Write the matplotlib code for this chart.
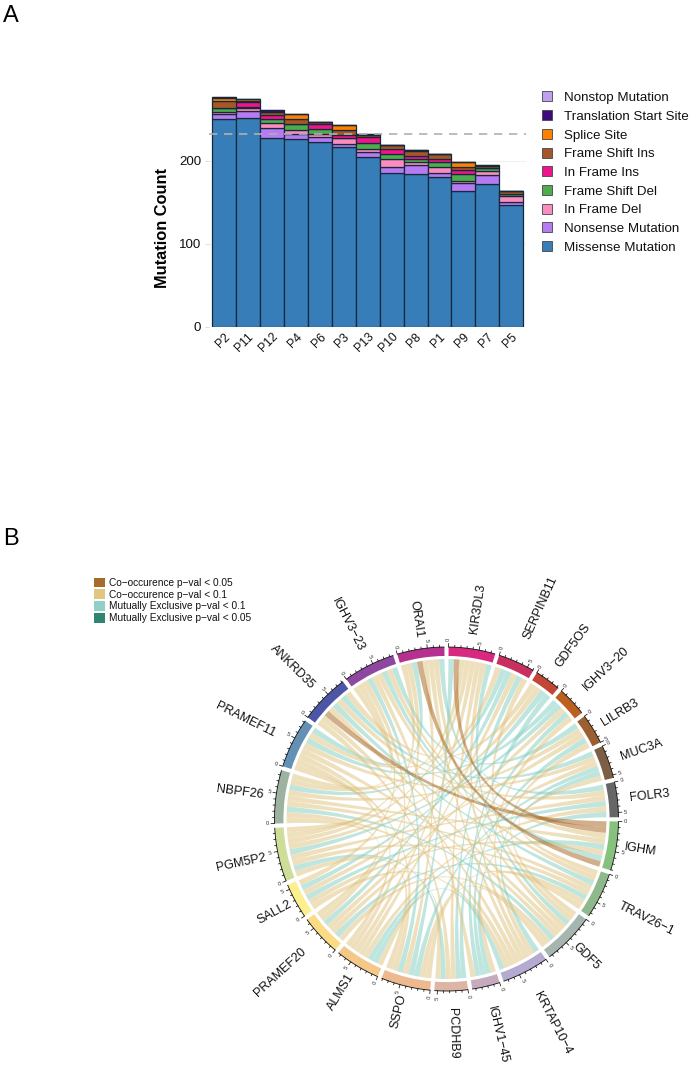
import numpy as np
import matplotlib

matplotlib.use("Agg")
import matplotlib.pyplot as plt
from matplotlib.lines import Line2D
from matplotlib.patches import PathPatch, Patch, Wedge
from matplotlib.path import Path

plt.rcParams["font.family"] = ["Liberation Sans", "DejaVu Sans"]

W, H = 691, 1066
TEXT = "#111111"

# panel A
patients = ["P2", "P11", "P12", "P4", "P6", "P3", "P13", "P10", "P8", "P1", "P9", "P7", "P5"]
missense = [250, 252, 227, 226, 222, 216, 204, 185, 184, 180, 164, 172, 146]
nonsense = [6, 8, 12, 6, 7, 4, 7, 8, 11, 5, 9, 11, 4]
inframe_del = [3, 3, 6, 5, 3, 7, 3, 9, 3, 8, 2, 4, 7]
frameshift_del = [4, 2, 5, 7, 6, 0, 7, 6, 4, 5, 9, 4, 3]
inframe_ins = [0, 6, 5, 0, 6, 4, 8, 6, 4, 4, 5, 0, 0]
frameshift_ins = [9, 1, 4, 6, 3, 6, 2, 5, 6, 6, 4, 3, 3]
splice_site = [4, 3, 0, 6, 0, 6, 0, 0, 1, 0, 5, 0, 0]
translation_start = [1, 0, 2, 0, 0, 0, 1, 0, 0, 0, 0, 1, 1]
nonstop = [0, 0, 0, 0, 0, 0, 0, 0, 0, 0, 0, 0, 0]
median_count = 232

series = [
    ("Missense Mutation", missense, "#377eb8"),
    ("Nonsense Mutation", nonsense, "#b57bf2"),
    ("In Frame Del", inframe_del, "#fb8cbe"),
    ("Frame Shift Del", frameshift_del, "#4dac4d"),
    ("In Frame Ins", inframe_ins, "#f0148c"),
    ("Frame Shift Ins", frameshift_ins, "#a65628"),
    ("Splice Site", splice_site, "#ff7f00"),
    ("Translation Start Site", translation_start, "#3f0a80"),
    ("Nonstop Mutation", nonstop, "#bf9ff2"),
]

# panel B
genes = ["KIR3DL3", "SERPINB11", "GDF5OS", "IGHV3−20", "LILRB3", "MUC3A", "FOLR3", "IGHM",
         "TRAV26−1", "GDF5", "KRTAP10−4", "IGHV1−45", "PCDHB9", "SSPO", "ALMS1", "PRAMEF20",
         "SALL2", "PGM5P2", "NBPF26", "PRAMEF11", "ANKRD35", "IGHV3−23", "ORAI1"]
gene_sizes = [7.7, 6.1, 4.3, 4.9, 5.0, 5.5, 5.8, 8.1, 7.6, 8.6, 7.8, 4.6, 5.5, 8.2, 7.5, 6.8,
              5.8, 8.9, 8.8, 8.3, 8.2, 8.6, 7.8]
gene_colors = ["#d9287f", "#c8305f", "#c24535", "#bc6020", "#9c5f30", "#7c5f45", "#666666",
               "#86c27d", "#8fb98a", "#a5b5b0", "#b5abd0", "#c6abbe", "#ddb5a5", "#eeb98e",
               "#f5c88a", "#fbdc85", "#fbf08d", "#cedd97", "#9db3a0", "#6490b4", "#4c55a6",
               "#8e47a0", "#b8308f"]

co_strong = [(20, 7), (0, 7), (22, 7)]
co_weak = [(0, 10), (0, 14), (0, 17), (0, 18), (0, 12), (1, 9), (1, 14), (1, 19), (2, 17),
           (2, 20), (3, 10), (3, 15), (4, 9), (4, 16), (4, 18), (5, 8), (5, 15), (5, 19),
           (6, 14), (6, 17), (6, 20), (7, 16), (7, 18), (7, 21), (8, 11), (8, 13), (8, 17),
           (8, 18), (8, 21), (9, 13), (9, 15), (9, 19), (9, 20), (9, 22), (10, 16), (10, 18),
           (10, 20), (10, 22), (11, 21), (12, 14), (12, 20), (13, 17), (13, 19), (13, 22),
           (14, 21), (14, 19), (15, 22), (15, 18), (16, 21), (17, 22), (17, 19), (18, 21)]
ex_weak = [(0, 13), (0, 9), (1, 12), (1, 15), (1, 18), (2, 11), (2, 16), (3, 12), (3, 19),
           (3, 17), (4, 11), (4, 21), (5, 13), (5, 20), (5, 10), (6, 11), (6, 16), (6, 22),
           (7, 14), (7, 21), (8, 15), (8, 20), (9, 18), (10, 14), (12, 17), (13, 21), (19, 22)]

link_legend = [("Co−occurence p−val < 0.05", "#a86a2c"), ("Co−occurence p−val < 0.1", "#e0c583"),
               ("Mutually Exclusive p−val < 0.1", "#90d0c5"),
               ("Mutually Exclusive p−val < 0.05", "#2f8571")]

# clockwise slot order where the strong links sit, (partner, colour group)
slot_orders = {
    0: [(13, "ex"), (7, "cs"), (18, "cw"), (17, "cw"), (14, "cw"), (12, "cw"), (10, "cw"), (9, "ex")],
    7: [(20, "cs"), (0, "cs"), (21, "cw"), (18, "cw"), (14, "ex"), (16, "cw"), (21, "ex"), (22, "cs")],
    20: [(12, "cw"), (10, "cw"), (7, "cs"), (9, "cw"), (8, "ex"), (6, "cw"), (5, "ex"), (2, "cw")],
    22: [(17, "cw"), (15, "cw"), (19, "ex"), (7, "cs"), (13, "cw"), (10, "cw"), (9, "cw"), (6, "ex")],
}
link_fill = {"cs": ("#a6611a", 0.5), "cw": ("#dfc27d", 0.5), "ex": ("#80cdc1", 0.5)}

GAP = 1.4
RING_PX = 172
RING_OUT, RING_IN, CHORD_R = 1.0, 0.948, 0.93
CTRL_R = 0.28
# where each gene name starts, in pixels from the circle centre
label_r_px = [188, 197, 189, 190, 183, 185, 184, 180, 193, 180, 196, 192, 189, 181, 182, 193,
              177, 185, 185, 192, 188, 189, 183]


def px_rect(x0, y0, x1, y1):
    return [x0 / W, 1 - y1 / H, (x1 - x0) / W, (y1 - y0) / H]


def polar(theta, r):
    # theta in degrees clockwise from north
    t = np.deg2rad(theta)
    return r * np.sin(t), r * np.cos(t)


def draw_bars(fig):
    ax = fig.add_axes(px_rect(209.4, 90, 525.8, 326.5))
    x = np.arange(len(patients))
    bottom = np.zeros(len(patients))
    for name, values, color in series:
        ax.bar(x, values, 1.0, bottom=bottom, color=color, edgecolor="#16283a", linewidth=0.9,
               label=name, zorder=2)
        bottom += np.array(values)
    ax.axhline(median_count, color="#b0b0b0", linewidth=1.2, dashes=(5, 4), zorder=3)
    ax.set_xlim(-0.6, 12.6)
    ax.set_ylim(0, 285.3)
    ax.set_yticks([0, 100, 200])
    ax.set_xticks(x)
    ax.set_xticklabels(patients, rotation=45, ha="right", rotation_mode="anchor")
    ax.tick_params(axis="y", length=3, width=0.6, color="#d8d8d8", labelsize=9.6, labelcolor=TEXT, pad=3)
    ax.tick_params(axis="x", length=0, labelsize=8.8, labelcolor=TEXT, pad=3)
    ax.grid(axis="y", color="#f0f0f0", linewidth=0.8, zorder=0)
    ax.set_axisbelow(True)
    for side in ax.spines.values():
        side.set_visible(False)
    ax.set_ylabel("Mutation Count", fontsize=11.8, fontweight="bold", color="black")
    ax.yaxis.set_label_coords(-0.125, (326.5 - 228) / (326.5 - 90))

    _, labels = ax.get_legend_handles_labels()
    squares = [Line2D([], [], linestyle="none", marker="s", markersize=6.5, markerfacecolor=c,
                      markeredgecolor="#444444", markeredgewidth=0.6) for _, _, c in series]
    fig.legend(squares[::-1], labels[::-1], loc="upper left",
               bbox_to_anchor=(540.5 / W, 1 - 91.7 / H), frameon=False, fontsize=9.6,
               labelspacing=0.48, handletextpad=0.8, handlelength=1.0, borderpad=0,
               borderaxespad=0, labelcolor=TEXT)


def draw_chords(fig):
    half = 240 / RING_PX
    ax = fig.add_axes(px_rect(446.5 - 240, 819 - 240, 446.5 + 240, 819 + 240))
    ax.set_xlim(-half, half)
    ax.set_ylim(-half, half)
    ax.axis("off")

    scale = (360 - GAP * len(genes)) / sum(gene_sizes)
    starts = []
    theta = 0.0
    for size in gene_sizes:
        starts.append(theta + GAP / 2)
        theta += size * scale + GAP

    for i, name in enumerate(genes):
        t0 = starts[i]
        t1 = t0 + gene_sizes[i] * scale
        ax.add_patch(Wedge((0, 0), RING_OUT, 90 - t1, 90 - t0, width=RING_OUT - RING_IN,
                           facecolor=gene_colors[i], edgecolor="none"))
        arc = np.linspace(t0, t1, 40)
        ax.plot(*polar(arc, RING_OUT), color="#111111", linewidth=0.6, solid_capstyle="butt")
        for k in range(int(gene_sizes[i]) + 1):
            tick = t0 + k * scale
            major = k % 5 == 0
            end = RING_OUT + (0.02 if major else 0.011)
            ax.plot(*zip(polar(tick, RING_OUT), polar(tick, end)), color="#111111", linewidth=0.55)
            if major:
                tx, ty = polar(tick, RING_OUT + 0.042)
                rot = 90 - tick if tick < 180 else 270 - tick
                ax.text(tx, ty, str(k), fontsize=4.2, color="#333333", rotation=rot,
                        rotation_mode="anchor", ha="center", va="center")
        mid = (t0 + t1) / 2
        lx, ly = polar(mid, label_r_px[i] / RING_PX)
        if mid < 180:
            rot, ha = 90 - mid, "left"
        else:
            rot, ha = 270 - mid, "right"
        ax.text(lx, ly, name, fontsize=9.0, color=TEXT, rotation=rot, rotation_mode="anchor",
                ha=ha, va="center", clip_on=False)

    links = [(a, b, "ex") for a, b in ex_weak] + [(a, b, "cw") for a, b in co_weak] + \
            [(a, b, "cs") for a, b in co_strong]
    ends = {i: [] for i in range(len(genes))}
    for n, (a, b, kind) in enumerate(links):
        ends[a].append((b, kind, n))
        ends[b].append((a, kind, n))

    slots = {}
    for s, items in ends.items():
        if s in slot_orders:
            order = slot_orders[s]
            items = sorted(items, key=lambda e: order.index((e[0], e[1])))
        else:
            items = sorted(items, key=lambda e: -((e[0] - s) % len(genes)))
        step = gene_sizes[s] * scale / len(items)
        for j, (_, _, n) in enumerate(items):
            slots[(n, s)] = (starts[s] + j * step, starts[s] + (j + 1) * step)

    for n, (a, b, kind) in enumerate(links):
        a0, a1 = slots[(n, a)]
        b0, b1 = slots[(n, b)]
        arc_a = [polar(t, CHORD_R) for t in np.linspace(a0, a1, 6)]
        arc_b = [polar(t, CHORD_R) for t in np.linspace(b0, b1, 6)]
        if kind == "cs":
            # strong links keep their width along the way
            c1, c2 = polar(a1, CTRL_R), polar(b0, CTRL_R)
            c3, c4 = polar(b1, CTRL_R), polar(a0, CTRL_R)
        else:
            # both edges share their control points, which pinches the ribbon in the middle
            c1 = c4 = polar((a0 + a1) / 2, CTRL_R)
            c2 = c3 = polar((b0 + b1) / 2, CTRL_R)
        verts = arc_a + [c1, c2] + arc_b + [c3, c4, arc_a[0]]
        codes = [Path.MOVETO] + [Path.LINETO] * 5 + [Path.CURVE4] * 3 + \
                [Path.LINETO] * 5 + [Path.CURVE4] * 3
        color, alpha = link_fill[kind]
        ax.add_patch(PathPatch(Path(verts, codes), facecolor=color, alpha=alpha, edgecolor="none"))

    handles = [Patch(facecolor=c, edgecolor="none") for _, c in link_legend]
    fig.legend(handles, [t for t, _ in link_legend], loc="upper left",
               bbox_to_anchor=(94 / W, 1 - 577.5 / H), frameon=False, fontsize=7.3, labelspacing=0.15,
               handlelength=1.1, handleheight=1.1, handletextpad=0.4, borderpad=0,
               borderaxespad=0, labelcolor=TEXT)


def main():
    fig = plt.figure(figsize=(W / 100, H / 100), dpi=100)
    draw_bars(fig)
    draw_chords(fig)
    fig.text(3 / W, 1 - 22 / H, "A", fontsize=17, color="black")
    fig.text(3 / W, 1 - 545 / H, "B", fontsize=17, color="black")
    fig.savefig("out.png", dpi=100)
    plt.close(fig)


if __name__ == "__main__":
    main()
